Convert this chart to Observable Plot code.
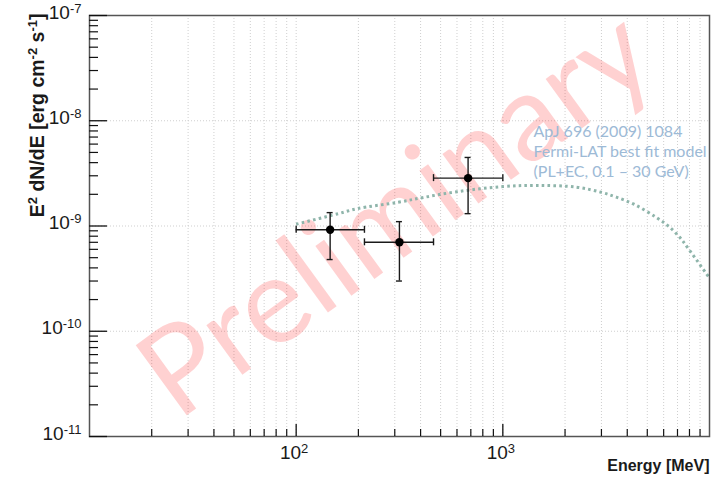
<!DOCTYPE html>
<html><head><meta charset="utf-8">
<script src="https://cdn.jsdelivr.net/npm/d3@7"></script>
<script src="https://cdn.jsdelivr.net/npm/@observablehq/plot@0.6"></script>
<style>body{margin:0;background:#fff}#chart svg{display:block}</style>
</head><body><div id="chart"></div>
<script>
// ---- data ----
const pointEnergy   = [146, 316, 679];
const pointEnergyLo = [100, 214, 462];
const pointEnergyHi = [214, 462, 1000];
const pointFlux     = [9.2e-10, 7.0e-10, 2.85e-9];
const pointFluxLo   = [4.8e-10, 3.0e-10, 1.31e-9];
const pointFluxHi   = [1.34e-9, 1.10e-9, 4.48e-9];

const modelEnergy = [100, 160, 197, 311, 414, 603, 1000, 1462, 2270, 2990, 3540, 4340, 5510, 6320, 7180, 7900, 10000];
const modelFlux   = [1.04e-9, 1.31e-9, 1.46e-9, 1.68e-9, 1.87e-9, 2.12e-9, 2.37e-9, 2.43e-9, 2.34e-9, 2.09e-9, 1.88e-9, 1.60e-9, 1.21e-9, 1.0e-9, 7.8e-10, 6.1e-10, 3.2e-10];

const xDomain = [10, 10000];
const yDomain = [1e-11, 1e-7];
const yTickValues = [1e-11, 1e-10, 1e-9, 1e-8, 1e-7];
const yTickLabels = ["10^{-11}", "10^{-10}", "10^{-9}", "10^{-8}", "10^{-7}"];
const xTickValues = [100, 1000];
const xTickLabels = ["10^{2}", "10^{3}"];
const xDecades = [10, 100, 1000];
const yDecades = [1e-11, 1e-10, 1e-9, 1e-8];
const minorSteps = [2, 3, 4, 5, 6, 7, 8, 9];

const xTitle = "Energy [MeV]";
const yTitle = "E^{2} dN/dE [erg cm^{-2} s^{-1}]";
const noteLines = ["ApJ 696 (2009) 1084", "Fermi-LAT best fit model", "(PL+EC, 0.1 \u2013 30 GeV)"];
const watermark = "Preliminary";

// ---- derived tables ----
const points = pointEnergy.map((e, i) => ({e, elo: pointEnergyLo[i], ehi: pointEnergyHi[i], f: pointFlux[i], flo: pointFluxLo[i], fhi: pointFluxHi[i]}));
const model = modelEnergy.map((e, i) => ({e, f: modelFlux[i]}));
const xMinor = xDecades.flatMap(d => minorSteps.map(s => s * d));
const yMinor = yDecades.flatMap(d => minorSteps.map(s => s * d));
const xGrid = [...xMinor, ...xTickValues];
const yGrid = [1e-10, 1e-9, 1e-8];

const W = 723, H = 482, mL = 89, mR = 14, mT = 15, mB = 46;
const frameW = W - mL - mR, frameH = H - mT - mB;
const font = "Liberation Sans, Arial, Helvetica, sans-serif";
const ink = "#1a1a1a";

// inward ticks: frame-spanning rules cut down to the tick length with insets
const yTicks = (values, len, w) => Plot.ruleY(values, {y: d => d, insetRight: frameW - len, stroke: "#111", strokeWidth: w});
const xTicks = (values, len, w) => Plot.ruleX(values, {x: d => d, insetTop: frameH - len, stroke: "#111", strokeWidth: w});

const chart = Plot.plot({
  width: W, height: H,
  marginLeft: mL, marginRight: mR, marginTop: mT, marginBottom: mB,
  style: {background: "#fff", fontFamily: font, overflow: "visible"},
  x: {type: "log", domain: xDomain, axis: null},
  y: {type: "log", domain: yDomain, axis: null},
  marks: [
    // grid
    Plot.ruleX(xGrid, {x: d => d, stroke: "#cfcfcf", strokeWidth: 1, strokeDasharray: "1,2"}),
    Plot.ruleY(yGrid, {y: d => d, stroke: "#cfcfcf", strokeWidth: 1, strokeDasharray: "1,2"}),
    // watermark
    Plot.text([watermark], {frameAnchor: "middle", dx: -3, dy: -11, rotate: -36, fontSize: 121, fontFamily: "Lato, Open Sans, sans-serif", fill: "#ff0000", fillOpacity: 0.18}),
    // model
    Plot.line(model, {x: "e", y: "f", curve: "catmull-rom", stroke: "#8fb5ab", strokeWidth: 3, strokeDasharray: "2.6 3.2", strokeLinecap: "butt"}),
    // error bars
    Plot.ruleY(points, {y: "f", x1: "elo", x2: "ehi", stroke: ink, strokeWidth: 1.4}),
    Plot.ruleX(points, {x: "e", y1: "flo", y2: "fhi", stroke: ink, strokeWidth: 1.4}),
    Plot.ruleX(points, {x: "elo", y1: "f", y2: "f", insetTop: -3.5, insetBottom: -3.5, stroke: ink, strokeWidth: 1.4}),
    Plot.ruleX(points, {x: "ehi", y1: "f", y2: "f", insetTop: -3.5, insetBottom: -3.5, stroke: ink, strokeWidth: 1.4}),
    Plot.ruleY(points, {y: "flo", x1: "e", x2: "e", insetLeft: -3, insetRight: -3, stroke: ink, strokeWidth: 1.4}),
    Plot.ruleY(points, {y: "fhi", x1: "e", x2: "e", insetLeft: -3, insetRight: -3, stroke: ink, strokeWidth: 1.4}),
    Plot.dot(points, {x: "e", y: "f", r: 4.2, fill: "#000"}),
    // annotation
    Plot.text([noteLines.join("\n")], {frameAnchor: "top-left", dx: 444, dy: 107, lineAnchor: "top", textAnchor: "start", lineHeight: 1.25, fontSize: 16, fontFamily: "Lato, Open Sans, sans-serif", fill: "#9dbad6"}),
    // frame
    Plot.frame({stroke: "#555", strokeWidth: 1.5}),
    // ticks
    yTicks(yTickValues, 18, 1.3),
    yTicks(yMinor, 9, 1.2),
    xTicks(xTickValues, 12, 1.3),
    xTicks(xMinor, 7, 1.2),
    // tick labels
    Plot.text(yTickValues, {y: d => d, text: (d, i) => yTickLabels[i], frameAnchor: "left", dx: -8, dy: -3, textAnchor: "end", fontSize: 19, fill: ink, ariaDescription: "rich-ylabels"}),
    Plot.text(xTickValues, {x: d => d, text: (d, i) => xTickLabels[i], frameAnchor: "bottom", dx: -2, dy: 22, textAnchor: "middle", fontSize: 19, fill: ink, ariaDescription: "rich-xlabels"}),
    // axis titles
    Plot.text([xTitle], {frameAnchor: "bottom-right", dy: 34, textAnchor: "end", fontSize: 16, fontWeight: "bold", fill: ink}),
    Plot.text([yTitle], {frameAnchor: "top-left", dx: -59, dy: -2, rotate: -90, textAnchor: "end", fontSize: 19.5, fontWeight: "bold", fill: ink, ariaDescription: "rich-ytitle"})
  ]
});

document.getElementById("chart").appendChild(chart);

// turn "^{...}" into superscript tspans
function richify(desc, supSize, rise) {
  d3.select(chart).selectAll(`g[aria-description="${desc}"] text`).each(function () {
    const el = d3.select(this);
    const raw = this.textContent;
    el.text(null);
    const parts = raw.split(/(\^\{[^}]*\})/).filter(s => s.length);
    let up = false;
    for (const p of parts) {
      const m = p.match(/^\^\{([^}]*)\}$/);
      if (m) {
        el.append("tspan").attr("dy", -rise).attr("font-size", supSize).text(m[1]);
        up = true;
      } else {
        const t = el.append("tspan").text(p);
        if (up) { t.attr("dy", rise); up = false; }
      }
    }
  });
}
richify("rich-ylabels", 13, 6);
richify("rich-xlabels", 13, 6);
richify("rich-ytitle", 13, 7.5);
</script>
</body></html>
